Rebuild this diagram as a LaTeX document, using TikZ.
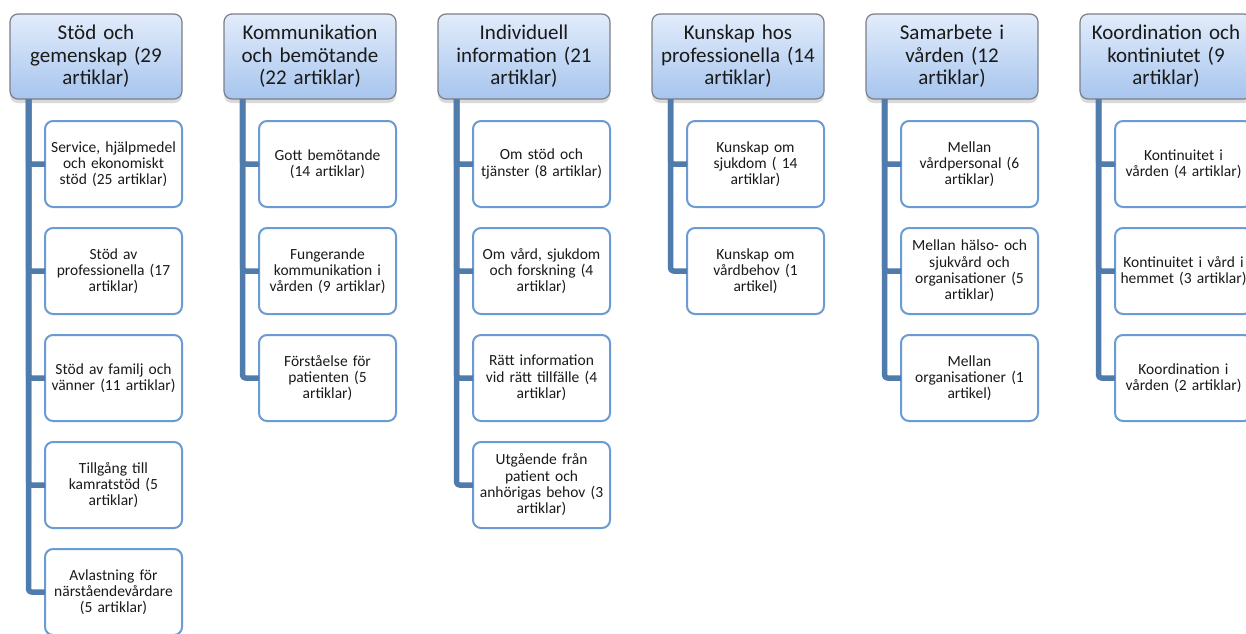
\documentclass[tikz,border=0pt]{standalone}
\usepackage{fontspec}
\setmainfont{Carlito}
\usetikzlibrary{shadows}
\definecolor{hdtop}{HTML}{E2ECFB}
\definecolor{hdbot}{HTML}{A7C5EE}
\definecolor{hdline}{HTML}{7A7F88}
\definecolor{chline}{HTML}{6A9BD3}
\definecolor{trunkc}{HTML}{4F7BAD}
\definecolor{txt}{HTML}{1A1A1A}
\tikzset{
  head/.style={draw=hdline, line width=1.2pt, rounded corners=8pt, top color=hdtop, bottom color=hdbot,
    minimum width=172pt, minimum height=85pt, text width=166pt, align=center, inner sep=2pt, outer sep=0pt,
    anchor=north west, text=txt, font=\fontsize{21}{22.5}\selectfont,
    drop shadow={shadow xshift=0pt, shadow yshift=-4pt, opacity=0.25, fill=black!60}},
  child/.style={draw=chline, line width=2pt, rounded corners=8pt, fill=white,
    minimum width=137pt, minimum height=86pt, text width=133pt, align=center, inner sep=2pt, outer sep=0pt,
    anchor=north west, text=txt, font=\fontsize{15.5}{16.3}\selectfont},
  trunk/.style={draw=trunkc, line width=5.5pt, rounded corners=3pt, line join=round}
}
\begin{document}
\begin{tikzpicture}[x=1pt,y=-1pt]
\useasboundingbox (0,0) rectangle (1246,633);
\clip (0,0) rectangle (1246,633);
% column 1
\node[head] (h1) at (10,14) {Stöd och\\gemenskap (29\\artiklar)};
\node[child] (c11) at (45,121) {Service, hjälpmedel\\och ekonomiskt\\stöd (25 artiklar)};
\node[child] (c12) at (45,228) {Stöd av\\professionella (17\\artiklar)};
\node[child] (c13) at (45,335) {Stöd av familj och\\vänner (11 artiklar)};
\node[child] (c14) at (45,442) {Tillgång till\\kamratstöd (5\\artiklar)};
\node[child] (c15) at (45,549) {Avlastning för\\närståendevårdare\\(5 artiklar)};
% column 2
\node[head] (h2) at (224,14) {Kommunikation\\och bemötande\\(22 artiklar)};
\node[child] (c21) at (259,121) {Gott bemötande\\(14 artiklar)};
\node[child] (c22) at (259,228) {Fungerande\\kommunikation i\\vården (9 artiklar)};
\node[child] (c23) at (259,335) {Förståelse för\\patienten (5\\artiklar)};
% column 3
\node[head] (h3) at (438,14) {Individuell\\information (21\\artiklar)};
\node[child] (c31) at (473,121) {Om stöd och\\tjänster (8 artiklar)};
\node[child] (c32) at (473,228) {Om vård, sjukdom\\och forskning (4\\artiklar)};
\node[child] (c33) at (473,335) {Rätt information\\vid rätt tillfälle (4\\artiklar)};
\node[child] (c34) at (473,442) {Utgående från\\patient och\\anhörigas behov (3\\artiklar)};
% column 4
\node[head] (h4) at (652,14) {Kunskap hos\\professionella (14\\artiklar)};
\node[child] (c41) at (687,121) {Kunskap om\\sjukdom ( 14\\artiklar)};
\node[child] (c42) at (687,228) {Kunskap om\\vårdbehov (1\\artikel)};
% column 5
\node[head] (h5) at (866,14) {Samarbete i\\vården (12\\artiklar)};
\node[child] (c51) at (901,121) {Mellan\\vårdpersonal (6\\artiklar)};
\node[child] (c52) at (901,228) {Mellan hälso- och\\sjukvård och\\organisationer (5\\artiklar)};
\node[child] (c53) at (901,335) {Mellan\\organisationer (1\\artikel)};
% column 6
\node[head] (h6) at (1080,14) {Koordination och\\kontiniutet (9\\artiklar)};
\node[child] (c61) at (1115,121) {Kontinuitet i\\vården (4 artiklar)};
\node[child] (c62) at (1115,228) {Kontinuitet i vård i\\hemmet (3 artiklar)};
\node[child] (c63) at (1115,335) {Koordination i\\vården (2 artiklar)};
% connectors
\foreach \h/\list in {h1/{c11,c12,c13,c14,c15}, h2/{c21,c22,c23}, h3/{c31,c32,c33,c34}, h4/{c41,c42}, h5/{c51,c52,c53}, h6/{c61,c62,c63}}{
  \foreach \c in \list {
    \draw[trunk] ([xshift=18.5pt]\h.south west) |- (\c.west);
  }
}
\end{tikzpicture}
\end{document}
